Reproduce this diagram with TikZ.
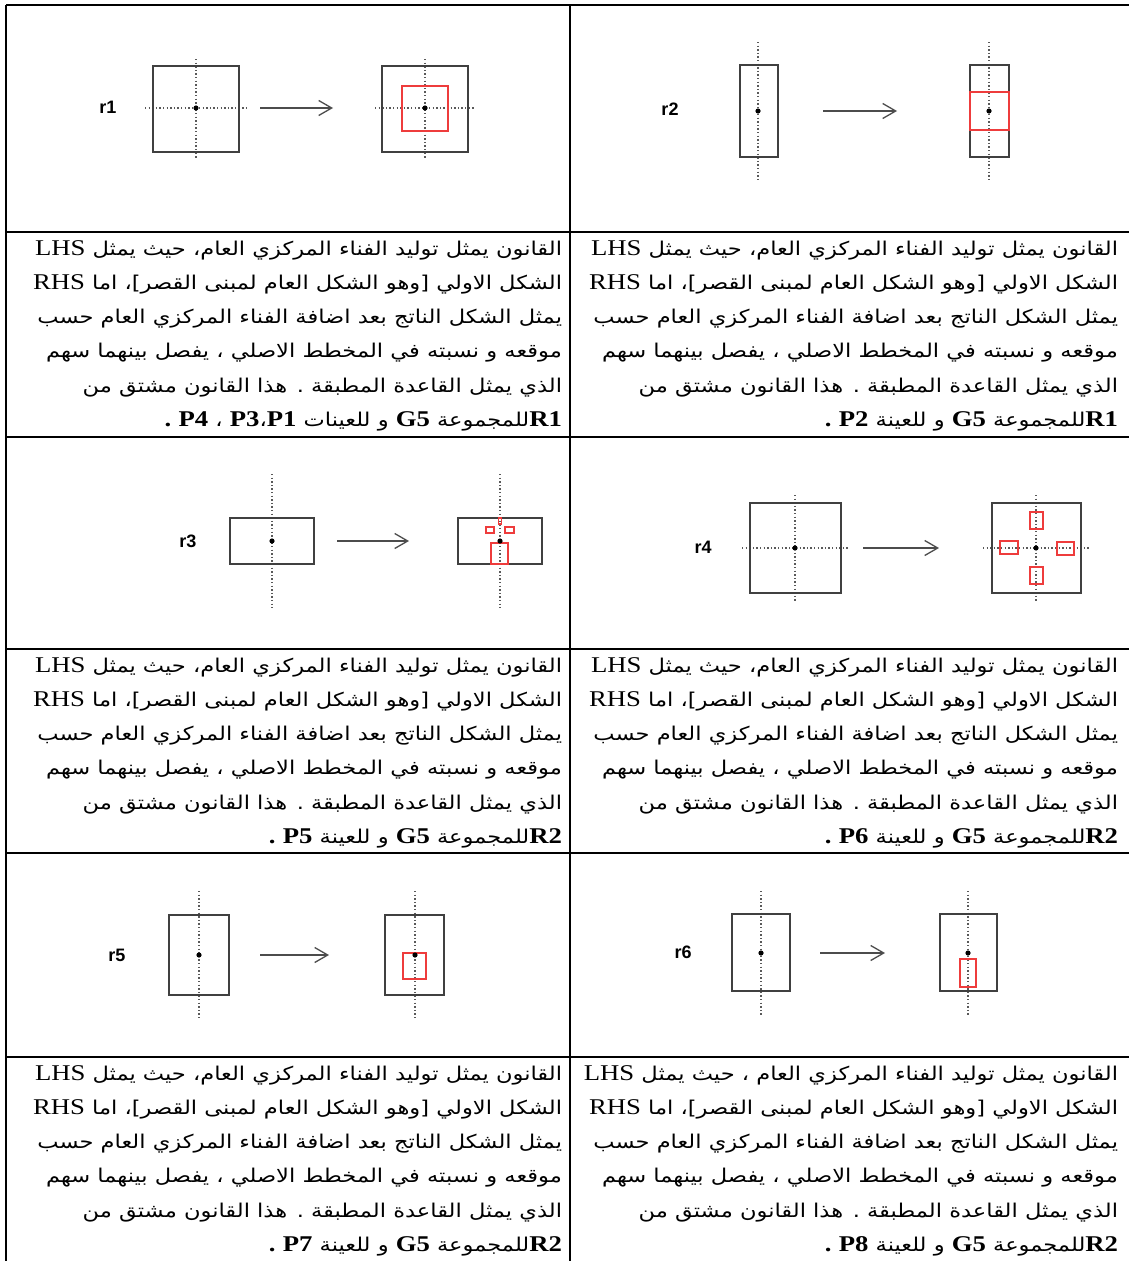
\documentclass[tikz,border=0pt]{standalone}
\usepackage{fontspec}
\usepackage{graphicx}
\usetikzlibrary{arrows.meta}
\setmainfont{Liberation Serif}
\setsansfont{Liberation Sans}
\newfontfamily\arabicfont[Script=Arabic]{DejaVu Sans}
\TeXXeTstate=1
\definecolor{redbox}{RGB}{238,60,60}
\newcommand\arf{\arabicfont\fontsize{19}{19}\selectfont}
\newcommand\lt[1]{{\rmfamily\fontsize{22.5}{22.5}\selectfont #1}}
\newcommand\lb[1]{{\rmfamily\bfseries\fontsize{22.5}{22.5}\selectfont #1}}
\newcommand\LineA{\arf\beginR القانون يمثل توليد الفناء المركزي العام، حيث يمثل \lt{LHS}\endR}
\newcommand\LineAA{\arf\beginR القانون يمثل توليد الفناء المركزي العام ، حيث يمثل \lt{LHS}\endR}
\newcommand\LineB{\arf\beginR الشكل الاولي [وهو الشكل العام لمبنى القصر]، اما \lt{RHS}\endR}
\newcommand\LineC{\arf\beginR يمثل الشكل الناتج بعد اضافة الفناء المركزي العام حسب\endR}
\newcommand\LineD{\arf\beginR موقعه و نسبته في المخطط الاصلي ، يفصل بينهما سهم\endR}
\newcommand\LineE{\arf\beginR الذي يمثل القاعدة المطبقة . هذا القانون مشتق من\endR}
\newsavebox\measbx
\newdimen\measw
\newcommand\celltext[5]{%
  \node[txt] (#1a) at (#2,#3) {\scalebox{\arsx}[1]{#4}};
  \node[txt] (#1b) at (#2,#3+34.3) {\scalebox{\arsx}[1]{\LineB}};
  \node[txt] (#1c) at (#2,#3+68.6) {\scalebox{\arsx}[1]{\LineC}};
  \node[txt] (#1d) at (#2,#3+102.9) {\scalebox{\arsx}[1]{\LineD}};
  \node[txt] (#1e) at (#2,#3+137.2) {\scalebox{\arsx}[1]{\LineE}};
  \node[txt] (#1f) at (#2,#3+171.5) {\scalebox{\arsx}[1]{#5}};
}
\tikzset{
  tbl/.style={line width=2pt, black},
  bld/.style={draw=black!75, line width=1.4pt},
  redr/.style={draw=redbox, line width=1.3pt},
  axis/.style={draw=black!65, line width=1.3pt, dash pattern=on 1.4pt off 2.2pt},
  ctr/.style={fill=black},
  rarrow/.style={draw=black!70, line width=1.7pt, -{Straight Barb[length=13pt,width=15pt,line width=1.3pt]}},
  rlabel/.style={font=\sffamily\bfseries\fontsize{18}{18}\selectfont, inner sep=0},
  txt/.style={anchor=base east, inner sep=0, outer sep=0},
}
\begin{document}
\sbox\measbx{\LineA}\global\measw=\wd\measbx
\pgfmathsetmacro\arsx{527/\measw}%
\begin{tikzpicture}[x=1pt,y=-1pt]
\useasboundingbox (0,0) rectangle (1129,1261);
\fill[white] (0,0) rectangle (1129,1261);
% table
\draw[tbl] (6,5) -- (1129,5);
\draw[tbl] (6,5) -- (6,1261);
\draw[tbl] (570,5) -- (570,1261);
\foreach \yy in {232,437,649,853,1057} \draw[tbl] (6,\yy) -- (1129,\yy);

% ---- r1
\node[rlabel] (lr1) at (108,107) {r1};
\draw[axis] (145,108) -- (247,108); \draw[axis] (196,59) -- (196,158);
\draw[bld] (153,66) rectangle (239,152);
\fill[ctr] (196,108) circle (2.6pt);
\coordinate (r1s) at (260,108); \coordinate (r1e) at (333,108);
\draw[rarrow] (r1s) -- (r1e);
\draw[axis] (375,108) -- (475,108); \draw[axis] (425,59) -- (425,158);
\draw[bld] (382,66) rectangle (468,152);
\draw[redr] (402,86) rectangle (448,131);
\fill[ctr] (425,108) circle (2.6pt);

% ---- r2
\node[rlabel] (lr2) at (670,109) {r2};
\draw[axis] (758,42) -- (758,180);
\draw[bld] (740,65) rectangle (778,157);
\fill[ctr] (758,111) circle (2.6pt);
\coordinate (r2s) at (823,111); \coordinate (r2e) at (897,111);
\draw[rarrow] (r2s) -- (r2e);
\draw[axis] (989,42) -- (989,180);
\draw[bld] (970,65) rectangle (1009,157);
\draw[redr] (970,92) rectangle (1009,130);
\fill[ctr] (989,111) circle (2.6pt);

% ---- r3
\node[rlabel] (lr3) at (188,541) {r3};
\draw[axis] (272,474) -- (272,608);
\draw[bld] (230,518) rectangle (314,564);
\fill[ctr] (272,541) circle (2.6pt);
\coordinate (r3s) at (337,541); \coordinate (r3e) at (409,541);
\draw[rarrow] (r3s) -- (r3e);
\draw[axis] (500,474) -- (500,608);
\draw[bld] (458,518) rectangle (542,564);
\draw[redr] (498.2,518) rectangle (501.8,524);
\draw[redr] (486,527) rectangle (494,533);
\draw[redr] (505,527) rectangle (514,533);
\draw[redr] (491,543) rectangle (508,564);
\fill[ctr] (500,541) circle (2.6pt);

% ---- r4
\node[rlabel] (lr4) at (703,547) {r4};
\draw[axis] (742,548) -- (848,548); \draw[axis] (795,495) -- (795,601);
\draw[bld] (750,503) rectangle (841,593);
\fill[ctr] (795,548) circle (2.6pt);
\coordinate (r4s) at (863,548); \coordinate (r4e) at (939,548);
\draw[rarrow] (r4s) -- (r4e);
\draw[axis] (983,548) -- (1090,548); \draw[axis] (1036,495) -- (1036,601);
\draw[bld] (992,503) rectangle (1081,593);
\draw[redr] (1030,512) rectangle (1043,529);
\draw[redr] (1030,567) rectangle (1043,584);
\draw[redr] (1000,541) rectangle (1018,554);
\draw[redr] (1057,542) rectangle (1074,555);
\fill[ctr] (1036,548) circle (2.6pt);

% ---- r5
\node[rlabel] (lr5) at (117,955) {r5};
\draw[axis] (199,891) -- (199,1019);
\draw[bld] (169,915) rectangle (229,995);
\fill[ctr] (199,955) circle (2.6pt);
\coordinate (r5s) at (260,955); \coordinate (r5e) at (329,955);
\draw[rarrow] (r5s) -- (r5e);
\draw[axis] (415,891) -- (415,1019);
\draw[bld] (385,915) rectangle (444,995);
\draw[redr] (403,953) rectangle (426,979);
\fill[ctr] (415,955) circle (2.6pt);

% ---- r6
\node[rlabel] (lr6) at (683,952) {r6};
\draw[axis] (761,891) -- (761,1015);
\draw[bld] (732,914) rectangle (790,991);
\fill[ctr] (761,953) circle (2.6pt);
\coordinate (r6s) at (820,953); \coordinate (r6e) at (885,953);
\draw[rarrow] (r6s) -- (r6e);
\draw[axis] (968,891) -- (968,1015);
\draw[bld] (940,914) rectangle (997,991);
\draw[redr] (960,959) rectangle (976,987);
\fill[ctr] (968,953) circle (2.6pt);

% ---- texts
\celltext{ta}{562}{255}{\LineA}{\arf\beginR\lb{R1}للمجموعة \lb{G5} و للعينات \lb{P1}،\lb{P3} ، \lb{P4} \lb{.}\endR}
\celltext{tb}{1118}{255}{\LineA}{\arf\beginR\lb{R1}للمجموعة \lb{G5} و للعينة \lb{P2} \lb{.}\endR}
\celltext{tc}{562}{672}{\LineA}{\arf\beginR\lb{R2}للمجموعة \lb{G5} و للعينة \lb{P5} \lb{.}\endR}
\celltext{td}{1118}{672}{\LineA}{\arf\beginR\lb{R2}للمجموعة \lb{G5} و للعينة \lb{P6} \lb{.}\endR}
\celltext{te}{562}{1080}{\LineA}{\arf\beginR\lb{R2}للمجموعة \lb{G5} و للعينة \lb{P7} \lb{.}\endR}
\celltext{tf}{1118}{1080}{\LineAA}{\arf\beginR\lb{R2}للمجموعة \lb{G5} و للعينة \lb{P8} \lb{.}\endR}
\end{tikzpicture}
\end{document}
